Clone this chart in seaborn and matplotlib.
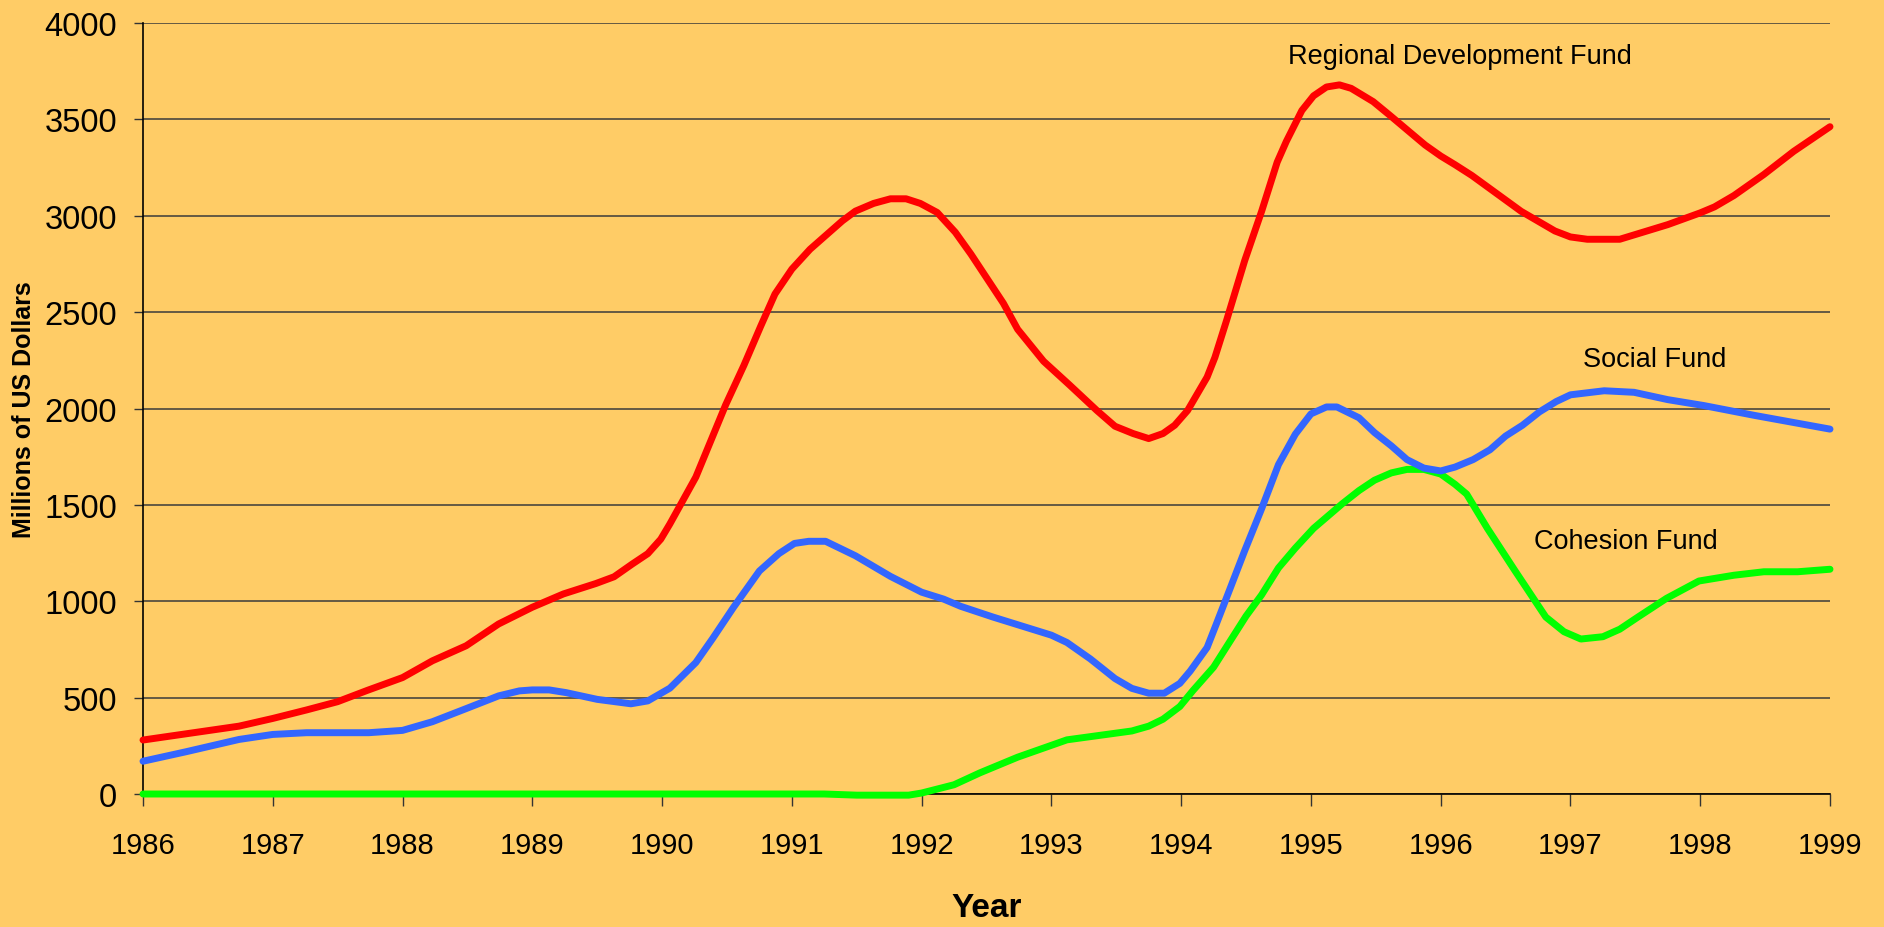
import matplotlib
matplotlib.use("Agg")
import matplotlib.pyplot as plt
import seaborn as sns

# Values (millions of US dollars)
regional_years = [1986.0, 1986.74, 1987.0, 1987.26, 1987.5, 1987.73, 1988.0, 1988.23, 1988.49, 1988.74,
                  1989.0, 1989.24, 1989.49, 1989.63, 1989.77, 1989.89, 1989.99, 1990.06, 1990.26, 1990.49,
                  1990.63, 1990.76, 1990.87, 1991.0, 1991.14, 1991.27, 1991.39, 1991.49, 1991.63, 1991.76,
                  1991.88, 1991.99, 1992.12, 1992.26, 1992.38, 1992.63, 1992.74, 1992.94, 1993.14, 1993.35,
                  1993.49, 1993.63, 1993.75, 1993.86, 1993.95, 1994.05, 1994.2, 1994.26, 1994.35, 1994.49,
                  1994.62, 1994.74, 1994.81, 1994.93, 1995.02, 1995.12, 1995.22, 1995.31, 1995.48, 1995.61,
                  1995.73, 1995.88, 1996.0, 1996.11, 1996.24, 1996.62, 1996.88, 1997.0, 1997.13, 1997.38,
                  1997.75, 1998.0, 1998.11, 1998.26, 1998.49, 1998.72, 1999.0]
regional_fund = [280, 352, 392, 436, 479, 538, 604, 691, 769, 882,
                 969, 1038, 1092, 1127, 1193, 1247, 1322, 1401, 1644, 2019,
                 2223, 2427, 2594, 2723, 2826, 2903, 2974, 3024, 3064, 3088,
                 3088, 3064, 3017, 2914, 2801, 2546, 2411, 2245, 2122, 1990,
                 1908, 1870, 1844, 1870, 1913, 1990, 2163, 2265, 2457, 2768,
                 3023, 3278, 3385, 3546, 3622, 3668, 3679, 3661, 3592, 3520,
                 3452, 3367, 3310, 3265, 3209, 3023, 2921, 2890, 2878, 2878,
                 2954, 3015, 3046, 3105, 3214, 3334, 3462]

social_years = [1986.0, 1986.33, 1986.74, 1987.0, 1987.26, 1987.74, 1988.0, 1988.23, 1988.49, 1988.74,
                1988.9, 1989.0, 1989.13, 1989.26, 1989.5, 1989.76, 1989.89, 1990.06, 1990.26, 1990.39,
                1990.55, 1990.75, 1990.9, 1991.02, 1991.13, 1991.26, 1991.49, 1991.76, 1992.0, 1992.17,
                1992.3, 1992.55, 1993.0, 1993.12, 1993.3, 1993.49, 1993.62, 1993.75, 1993.87, 1993.99,
                1994.07, 1994.2, 1994.27, 1994.38, 1994.49, 1994.62, 1994.75, 1994.88, 1995.0, 1995.12,
                1995.2, 1995.37, 1995.49, 1995.62, 1995.74, 1995.87, 1996.0, 1996.11, 1996.25, 1996.38,
                1996.5, 1996.63, 1996.76, 1996.89, 1997.0, 1997.26, 1997.49, 1997.75, 1998.03, 1998.42,
                1999.0]
social_fund = [170, 219, 283, 309, 318, 318, 330, 375, 443, 509,
               535, 540, 540, 526, 491, 468, 483, 549, 682, 807,
               968, 1157, 1247, 1300, 1311, 1311, 1236, 1129, 1047, 1011,
               974, 918, 824, 786, 701, 599, 548, 523, 523, 574,
               638, 760, 880, 1071, 1263, 1480, 1709, 1867, 1972, 2008,
               2008, 1952, 1875, 1806, 1735, 1691, 1676, 1696, 1735, 1786,
               1857, 1913, 1982, 2036, 2071, 2092, 2084, 2046, 2015, 1964,
               1893]

cohesion_years = [1986.0, 1991.25, 1991.5, 1991.9, 1992.0, 1992.25, 1992.45, 1992.74, 1993.12, 1993.62,
                  1993.75, 1993.86, 1993.99, 1994.09, 1994.25, 1994.38, 1994.5, 1994.62, 1994.75, 1994.88,
                  1995.02, 1995.24, 1995.37, 1995.49, 1995.62, 1995.74, 1995.87, 1996.0, 1996.11, 1996.2,
                  1996.36, 1996.57, 1996.81, 1996.95, 1997.08, 1997.25, 1997.38, 1997.52, 1997.74, 1997.99,
                  1998.26, 1998.49, 1998.75, 1999.0]
cohesion_fund = [0, 0, -6, -6, 5, 48, 110, 191, 281, 327,
                 352, 388, 454, 536, 658, 796, 923, 1033, 1173, 1276,
                 1378, 1505, 1574, 1628, 1666, 1684, 1684, 1660, 1607, 1556,
                 1378, 1161, 918, 842, 804, 816, 855, 918, 1015, 1105,
                 1135, 1153, 1153, 1166]

year_ticks = list(range(1986, 2000))
value_ticks = list(range(0, 4001, 500))

bg = "#FFCC66"
plain = ["Liberation Sans", "DejaVu Sans"]

sns.set_theme(style="white")
plt.rcParams["font.family"] = plain
plt.rcParams["text.color"] = "black"
plt.rcParams["axes.labelcolor"] = "black"

fig = plt.figure(figsize=(18.84, 9.28), dpi=100, facecolor=bg)
ax = fig.add_axes([143 / 1884, 1 - 795 / 928, 1687 / 1884, 771 / 928])
ax.set_facecolor(bg)

line_kw = dict(linewidth=5, estimator=None, sort=False, ax=ax, legend=False)
sns.lineplot(x=cohesion_years, y=cohesion_fund, color="#00FF00", **line_kw)
sns.lineplot(x=social_years, y=social_fund, color="#3366FF", **line_kw)
sns.lineplot(x=regional_years, y=regional_fund, color="#FF0000", **line_kw)
for ln in ax.lines:
    ln.set_clip_on(False)
    ln.set_zorder(3)
    ln.set_solid_capstyle("round")
    ln.set_solid_joinstyle("round")

ax.set_xlim(1986, 1999)
ax.set_ylim(0, 4000)
ax.set_xticks(year_ticks)
ax.set_yticks(value_ticks)
ax.set_xticklabels([str(y) for y in year_ticks], fontsize=21, color="black")
ax.set_yticklabels([str(v) for v in value_ticks], fontsize=23.5, color="black")

ax.yaxis.grid(True, color="#3a3a3a", linewidth=1.1)
ax.xaxis.grid(False)
ax.set_axisbelow(True)
for side in ["top", "right"]:
    ax.spines[side].set_visible(False)
for side in ["left", "bottom"]:
    ax.spines[side].set_color("black")
    ax.spines[side].set_linewidth(1.2)

ax.tick_params(axis="x", direction="out", length=8.5, width=1, color="#333333", pad=18, bottom=True)
ax.tick_params(axis="y", direction="out", length=6.5, width=1, color="#333333", pad=12, left=True)

ax.set_xlabel("Year", fontsize=24, fontweight="bold")
ax.set_ylabel("Millions of US Dollars", fontsize=18, fontweight="bold")
ax.xaxis.label.set_va("center")
ax.yaxis.label.set_va("center")
ax.xaxis.set_label_coords(0.5, (795 - 909) / 771)
ax.yaxis.set_label_coords((24 - 143) / 1687, 0.5)

ax.text(1994.82, 3829, "Regional Development Fund", fontsize=19.5, ha="left", va="center")
ax.text(1997.10, 2257, "Social Fund", fontsize=19.5, ha="left", va="center")
ax.text(1996.72, 1313, "Cohesion Fund", fontsize=19.5, ha="left", va="center")

fig.savefig("out.png", dpi=100, facecolor=bg)
